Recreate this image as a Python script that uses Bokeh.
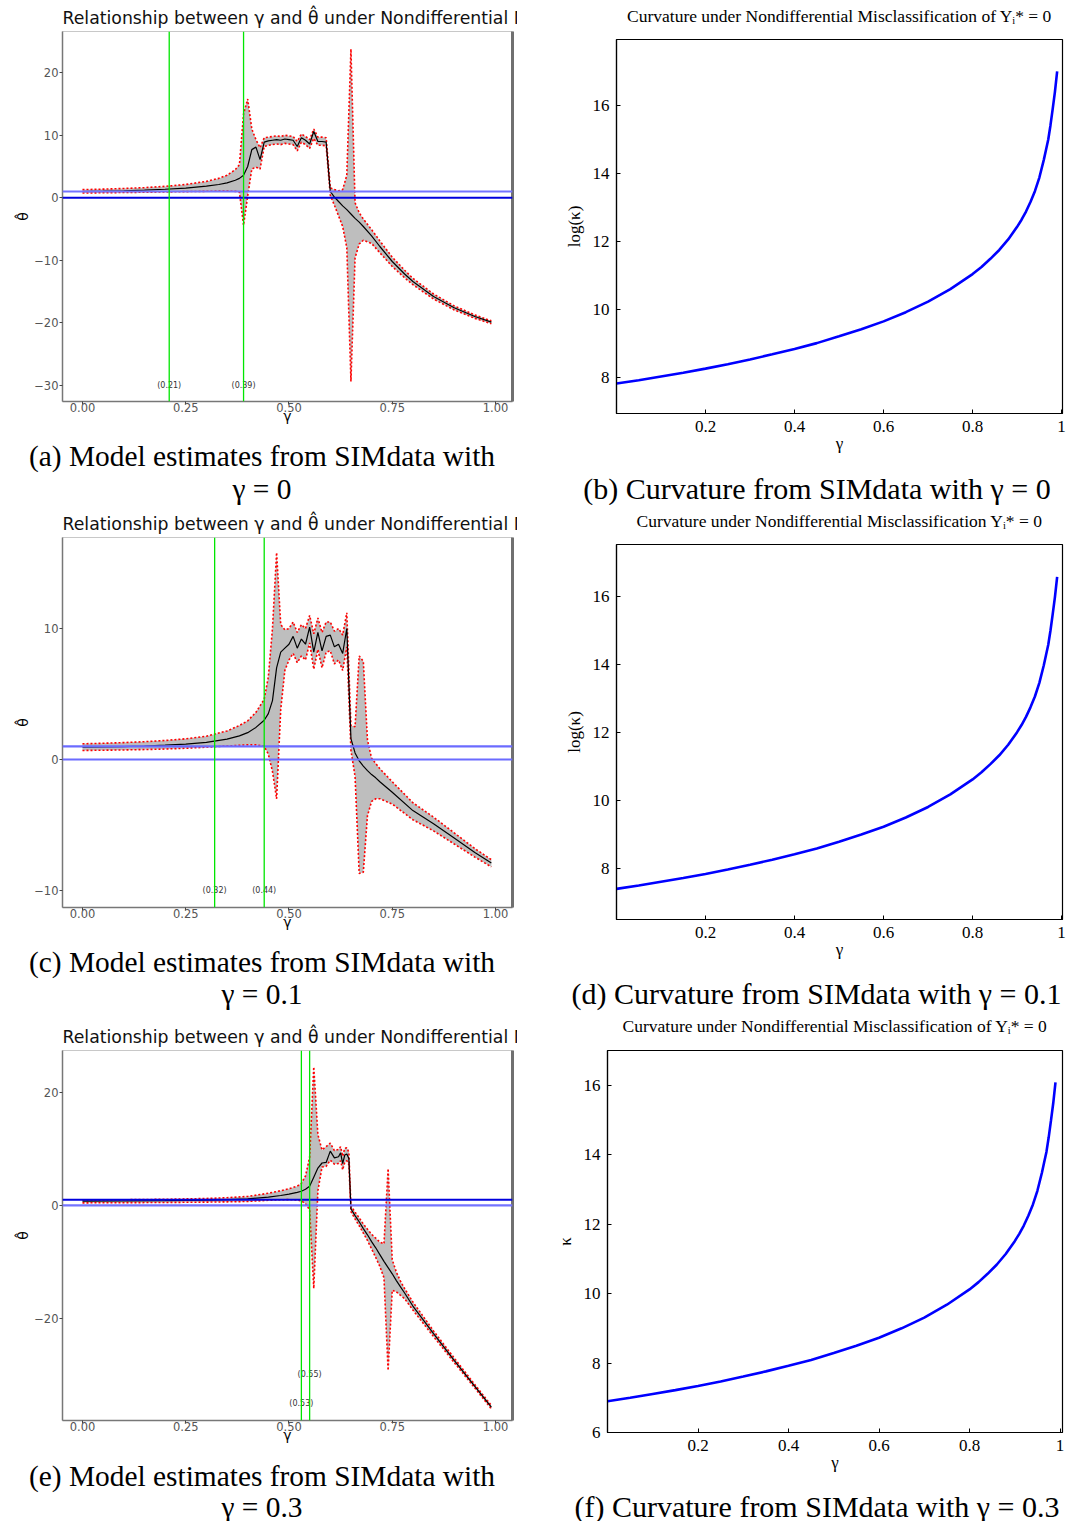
from bokeh.plotting import figure
from bokeh.models import Range1d, FixedTicker, NumeralTickFormatter, Span, LinearAxis
from bokeh.layouts import row, column
from bokeh.embed import file_html
from bokeh.resources import INLINE
from bokeh.core.properties import value

# ---------------- data: panel (a) gamma = 0 ----------------
gamma_a = [0.00, 0.05, 0.10, 0.15, 0.20, 0.25, 0.30, 0.33, 0.35, 0.37, 0.38, 0.39, 0.40, 0.41,
           0.42, 0.43, 0.44, 0.45, 0.46, 0.47, 0.48, 0.49, 0.50, 0.51, 0.52, 0.53, 0.54, 0.55,
           0.56, 0.57, 0.58, 0.59, 0.60, 0.61, 0.62, 0.63, 0.64, 0.65, 0.66, 0.67, 0.68, 0.70,
           0.72, 0.75, 0.78, 0.80, 0.85, 0.90, 0.95, 0.99]
est_a = [1.00, 1.05, 1.12, 1.22, 1.36, 1.55, 1.85, 2.12, 2.38, 2.80, 3.10, 3.60, 5.00, 7.70,
         8.10, 6.10, 8.90, 9.10, 9.20, 9.30, 9.20, 9.40, 9.30, 9.20, 8.20, 9.60, 9.20, 8.60,
         10.6, 9.00, 9.00, 8.90, 1.00, 0.10, -0.60, -1.30, -1.90, -2.60, -3.30, -3.90, -4.60, -6.10,
         -7.80, -10.2, -12.2, -13.4, -15.8, -17.6, -19.0, -19.9]
up_a = [1.30, 1.38, 1.48, 1.62, 1.82, 2.12, 2.62, 3.10, 3.60, 4.50, 5.30, 13.4, 15.8, 11.0,
        9.30, 8.00, 9.60, 9.70, 9.80, 9.90, 9.80, 10.0, 9.90, 9.80, 9.00, 10.2, 9.80, 9.30,
        11.0, 9.70, 9.70, 9.60, 1.60, 1.30, 1.10, 1.30, 3.60, 23.8, -0.80, -2.40, -3.40, -5.10,
        -6.90, -9.50, -11.6, -12.9, -15.4, -17.3, -18.75, -19.7]
lo_a = [0.75, 0.80, 0.84, 0.88, 0.93, 0.98, 1.03, 1.06, 1.07, 1.02, 0.90, -4.4, 0.30, 4.60,
        4.90, 4.60, 8.20, 8.40, 8.50, 8.60, 8.50, 8.70, 8.60, 8.50, 7.50, 8.90, 8.50, 7.90,
        9.50, 8.40, 8.40, 8.30, 0.40, -1.20, -2.90, -4.60, -8.00, -29.4, -9.60, -7.40, -6.80, -7.30,
        -8.80, -11.0, -12.8, -13.9, -16.2, -17.95, -19.3, -20.15]
vlines_a = [0.21, 0.39]
vlabels_a = ["(0.21)", "(0.39)"]
vlabel_y_a = [-30, -30]
yticks_a = [-30, -20, -10, 0, 10, 20]

# ---------------- data: panel (c) gamma = 0.1 ----------------
gamma_c = [0.00, 0.05, 0.10, 0.15, 0.20, 0.25, 0.30, 0.35, 0.38, 0.40, 0.42, 0.44, 0.45, 0.46,
           0.47, 0.48, 0.49, 0.50, 0.51, 0.52, 0.53, 0.54, 0.55, 0.56, 0.57, 0.58, 0.59, 0.60,
           0.61, 0.62, 0.63, 0.64, 0.65, 0.66, 0.67, 0.68, 0.69, 0.70, 0.71, 0.72, 0.75, 0.80,
           0.85, 0.90, 0.95, 0.99]
est_c = [0.94, 0.96, 0.99, 1.03, 1.09, 1.18, 1.31, 1.55, 1.80, 2.05, 2.45, 3.00, 3.50, 4.50,
         7.00, 8.20, 8.50, 8.80, 9.40, 8.50, 9.20, 8.80, 10.1, 8.20, 9.70, 8.30, 9.40, 9.50,
         8.60, 8.80, 8.10, 10.0, 1.60, 0.50, -0.10, -0.50, -0.85, -1.15, -1.40, -1.70, -2.50, -3.90,
         -4.90, -6.00, -7.10, -7.90]
up_c = [1.20, 1.24, 1.29, 1.36, 1.45, 1.58, 1.78, 2.18, 2.60, 2.95, 3.60, 4.60, 6.30, 10.0,
        15.8, 10.3, 9.90, 10.0, 10.5, 9.70, 10.3, 10.0, 11.0, 9.60, 10.8, 9.70, 10.5, 10.5,
        9.80, 10.0, 9.50, 11.2, 2.60, 2.50, 7.90, 7.50, 1.50, 0.10, -0.30, -0.70, -1.70, -3.30,
        -4.40, -5.60, -6.80, -7.65]
lo_c = [0.69, 0.71, 0.73, 0.76, 0.80, 0.86, 0.94, 1.03, 1.08, 1.12, 1.12, 1.00, 0.40, -0.90,
        -3.00, 3.80, 6.80, 7.60, 8.10, 7.40, 7.90, 7.60, 8.90, 6.90, 8.40, 7.00, 8.20, 8.30,
        7.30, 7.60, 6.80, 8.60, 0.70, -1.30, -8.70, -8.60, -4.30, -3.20, -3.00, -3.00, -3.40, -4.60,
        -5.45, -6.45, -7.45, -8.20]
vlines_c = [0.32, 0.44]
vlabels_c = ["(0.32)", "(0.44)"]
vlabel_y_c = [-10, -10]
yticks_c = [-10, 0, 10]

# ---------------- data: panel (e) gamma = 0.3 ----------------
gamma_e = [0.00, 0.10, 0.20, 0.30, 0.35, 0.40, 0.45, 0.48, 0.50, 0.52, 0.53, 0.54, 0.55, 0.56,
           0.57, 0.58, 0.59, 0.60, 0.61, 0.62, 0.625, 0.63, 0.635, 0.64, 0.645, 0.65, 0.66, 0.67,
           0.68, 0.69, 0.70, 0.71, 0.72, 0.73, 0.74, 0.75, 0.76, 0.77, 0.78, 0.80, 0.85, 0.90,
           0.95, 0.99]
est_e = [0.75, 0.78, 0.83, 0.93, 1.02, 1.15, 1.45, 1.75, 2.00, 2.30, 2.50, 2.85, 3.40, 5.00,
         6.60, 7.50, 7.60, 9.60, 8.40, 8.60, 9.30, 7.40, 8.90, 9.10, 8.30, -0.60, -1.80, -2.90,
         -4.10, -5.20, -6.40, -7.50, -8.70, -9.90, -11.0, -12.1, -13.3, -14.4, -15.5, -17.8, -22.7, -27.4,
         -32.0, -35.7]
up_e = [0.95, 1.00, 1.08, 1.22, 1.36, 1.58, 2.15, 2.60, 2.95, 3.40, 3.90, 5.20, 8.50, 24.5,
        12.5, 9.80, 10.4, 11.0, 9.70, 9.90, 10.4, 8.70, 10.1, 10.2, 9.40, -0.10, -1.20, -2.20,
        -3.30, -4.20, -5.10, -5.80, -6.50, -6.80, 6.50, -9.60, -11.8, -13.4, -14.7, -17.1, -22.2, -27.0,
        -31.7, -35.4]
lo_e = [0.45, 0.48, 0.52, 0.58, 0.63, 0.70, 0.90, 1.00, 1.02, 0.95, 0.80, 0.30, -0.80, -14.7,
        2.60, 6.80, 6.90, 8.00, 7.30, 7.40, 7.90, 6.30, 7.60, 7.90, 7.20, -1.10, -2.40, -3.60,
        -4.90, -6.20, -7.70, -9.20, -10.8, -12.8, -29.2, -15.0, -15.3, -15.9, -16.5, -18.5, -23.2, -27.8,
        -32.3, -36.0]
vlines_e = [0.53, 0.55]
vlabels_e = ["(0.53)", "(0.55)"]
vlabel_y_e = [-35, -30]
yticks_e = [-20, 0, 20]

# horizontal reference lines (theta = 0 and theta = 1)
hlines = [0, 1]
xticks_left = [0.0, 0.25, 0.5, 0.75, 1.0]

# ---------------- curvature panels ----------------
gamma_k = [0.00, 0.05, 0.10, 0.15, 0.20, 0.25, 0.30, 0.35, 0.40, 0.45, 0.50, 0.55, 0.60, 0.65,
           0.70, 0.75, 0.80, 0.82, 0.84, 0.86, 0.88, 0.90, 0.91, 0.92, 0.93, 0.94, 0.95, 0.96,
           0.965, 0.97, 0.975, 0.98, 0.985, 0.99]
logk_b = [7.82, 7.92, 8.03, 8.14, 8.26, 8.39, 8.53, 8.68, 8.84, 9.01, 9.21, 9.42, 9.65, 9.92,
          10.23, 10.60, 11.04, 11.25, 11.49, 11.75, 12.06, 12.43, 12.64, 12.88, 13.16, 13.48, 13.88, 14.40,
          14.70, 15.00, 15.42, 15.90, 16.40, 17.00]
logk_d = [7.40, 7.50, 7.61, 7.72, 7.84, 7.97, 8.11, 8.26, 8.42, 8.59, 8.79, 9.00, 9.23, 9.50,
          9.81, 10.18, 10.62, 10.83, 11.07, 11.33, 11.64, 12.01, 12.22, 12.46, 12.74, 13.06, 13.46, 13.98,
          14.28, 14.58, 15.00, 15.48, 15.98, 16.58]
k_f = [6.90, 7.00, 7.11, 7.22, 7.34, 7.47, 7.61, 7.76, 7.92, 8.09, 8.29, 8.50, 8.73, 9.00,
       9.31, 9.68, 10.12, 10.33, 10.57, 10.83, 11.14, 11.51, 11.72, 11.96, 12.24, 12.56, 12.96, 13.48,
       13.78, 14.08, 14.50, 14.98, 15.48, 16.08]
xticks_right = [0.2, 0.4, 0.6, 0.8, 1.0]
yticks_bd = [8, 10, 12, 14, 16]
yticks_f = [6, 8, 10, 12, 14, 16]

SANS = "DejaVu Sans"
SERIF = "Liberation Serif"
MINUS = "\u2212"
TITLE_OF = "Curvature under Nondifferential Misclassification of Y\u1d62* = 0"
TITLE_NO_OF = "Curvature under Nondifferential Misclassification Y\u1d62* = 0"


def left_panel(gam, est, up, lo, ylim, yticks, vl, vlab, vlab_y, hcolors, hwidths,
               height, top, bottom):
    p = figure(width=517, height=height, output_backend="svg", toolbar_location=None,
               x_range=Range1d(-0.0484, 1.0412), y_range=Range1d(*ylim),
               min_border_left=62, min_border_right=5, min_border_top=top,
               min_border_bottom=bottom)
    p.title.text = "Relationship between \u03b3 and \u03b8\u0302 under Nondifferential Misclassification"
    p.title.text_font = SANS
    p.title.text_font_size = "17.3px"
    p.title.text_font_style = "normal"
    p.title.text_color = "#111111"
    p.title.standoff = 8
    p.grid.visible = False
    p.outline_line_color = "#c8c8c8"

    p.varea(x=gam, y1=lo, y2=up, fill_color="#bebebe")
    p.line(gam, up, line_color="red", line_dash="2 2", line_width=1.6)
    p.line(gam, lo, line_color="red", line_dash="2 2", line_width=1.6)
    p.line(gam, est, line_color="black", line_width=1.2)
    for loc, col, w in zip(hlines, hcolors, hwidths):
        p.add_layout(Span(location=loc, dimension="width", line_color=col, line_width=w))
    for v in vl:
        p.add_layout(Span(location=v, dimension="height", line_color="#00e600", line_width=1.3))
    p.text(x=vl, y=vlab_y, text=vlab, text_font=value(SANS), text_font_size="8px",
           text_align="center", text_baseline="middle", text_color="#333333")

    for ax in (p.xaxis[0], p.yaxis[0]):
        ax.axis_line_color = "#777777"
        ax.axis_line_width = 1.5
        ax.major_tick_line_color = "#444444"
        ax.major_tick_out = 3
        ax.major_tick_in = 0
        ax.minor_tick_line_color = None
        ax.major_label_text_font = SANS
        ax.major_label_text_font_size = "11.5px"
        ax.major_label_text_color = "#555555"
        ax.axis_label_text_font = SANS
        ax.axis_label_text_font_size = "14px"
        ax.axis_label_text_font_style = "normal"
        ax.axis_label_text_color = "black"
    p.xaxis.ticker = FixedTicker(ticks=xticks_left)
    p.xaxis.formatter = NumeralTickFormatter(format="0.00")
    p.xaxis.major_label_standoff = -2
    p.xaxis.axis_label = "\u03b3"
    p.xaxis.axis_label_standoff = -7
    p.yaxis.ticker = FixedTicker(ticks=yticks)
    p.yaxis.major_label_overrides = {t: (MINUS + str(-t) if t < 0 else str(t)) for t in yticks}
    p.yaxis.major_label_standoff = 1
    p.yaxis.axis_label = "\u03b8\u0302"
    p.yaxis.axis_label_standoff = 0

    right = LinearAxis(axis_line_color="#707070", axis_line_width=3, major_tick_line_color=None,
                       minor_tick_line_color=None, major_label_text_font_size="1px",
                       major_label_text_color=None, major_label_standoff=0, ticker=FixedTicker(ticks=[]))
    p.add_layout(right, "right")
    return p


def right_panel(gam, k, ylim, yticks, xmax, ylab, height, left, top, bottom):
    p = figure(width=554, height=height, output_backend="svg", toolbar_location=None,
               x_range=Range1d(0, xmax), y_range=Range1d(*ylim),
               min_border_left=left, min_border_right=9, min_border_top=top,
               min_border_bottom=bottom)
    p.title.visible = False
    p.grid.visible = False
    p.outline_line_color = "black"
    p.outline_line_width = 1.2

    p.line(gam, k, line_color="#0000ff", line_width=2.6)

    for ax in (p.xaxis[0], p.yaxis[0]):
        ax.axis_line_color = "black"
        ax.axis_line_width = 1.2
        ax.major_tick_line_color = "black"
        ax.major_tick_in = 4
        ax.major_tick_out = 0
        ax.minor_tick_line_color = None
        ax.major_label_text_font = SERIF
        ax.major_label_text_font_size = "17px"
        ax.major_label_text_color = "black"
        ax.axis_label_text_font = SERIF
        ax.axis_label_text_font_size = "17px"
        ax.axis_label_text_font_style = "normal"
        ax.axis_label_text_color = "black"
    p.xaxis.ticker = FixedTicker(ticks=xticks_right)
    p.xaxis.major_label_overrides = {0.2: "0.2", 0.4: "0.4", 0.6: "0.6", 0.8: "0.8", 1.0: "1"}
    p.xaxis.major_label_standoff = 7
    p.xaxis.axis_label = "\u03b3"
    p.xaxis.axis_label_standoff = -1
    p.yaxis.ticker = FixedTicker(ticks=yticks)
    p.yaxis.major_label_standoff = 7
    p.yaxis.axis_label = ylab
    p.yaxis.axis_label_standoff = 6
    return row(p)


def strip(width, height, x0, fig_top, lines, cx, size):
    """A text strip (caption or title); x in page pixels, y in pixels from the strip bottom."""
    p = figure(width=width, height=height, output_backend="svg", toolbar_location=None,
               x_range=Range1d(x0, x0 + width), y_range=Range1d(0, height),
               x_axis_type=None, y_axis_type=None,
               min_border_left=0, min_border_right=0, min_border_top=0, min_border_bottom=0)
    p.title.visible = False
    p.outline_line_color = None
    p.grid.visible = False
    texts = [t for t, _ in lines]
    ys = [height - (py - fig_top) for _, py in lines]
    p.text(x=[cx] * len(lines), y=ys, text=texts, text_font=value(SERIF), text_font_size=size,
           text_align="center", text_baseline="middle", text_color="black")
    return row(p)


pa = left_panel(gamma_a, est_a, up_a, lo_a, (-32.6, 26.6), yticks_a, vlines_a, vlabels_a, vlabel_y_a,
                ["#0000dd", "#7373ff"], [1.8, 2.2], 434, 31, 33)
cap_a = strip(517, 71, 0, 434,
              [("(a) Model estimates from SIMdata with", 455), ("\u03b3 = 0", 488)], 261.5, "29.4px")
pc = left_panel(gamma_c, est_c, up_c, lo_c, (-11.3, 16.95), yticks_c, vlines_c, vlabels_c, vlabel_y_c,
                ["#6b6bff", "#6b6bff"], [2.2, 2.2], 434, 32, 32)
cap_c = strip(517, 73, 0, 939,
              [("(c) Model estimates from SIMdata with", 961), ("\u03b3 = 0.1", 993)], 261.5, "29.4px")
pe = left_panel(gamma_e, est_e, up_e, lo_e, (-38.05, 27.4), yticks_e, vlines_e, vlabels_e, vlabel_y_e,
                ["#7373ff", "#0000dd"], [2.2, 1.8], 441, 38, 33)
cap_e = strip(517, 68, 0, 1453,
              [("(e) Model estimates from SIMdata with", 1475), ("\u03b3 = 0.3", 1506)], 261.5, "29.4px")

title_b = strip(554, 28, 517, 0, [(TITLE_OF, 15)], 839, "17.5px")
pb = right_panel(gamma_k, logk_b, (6.94, 17.94), yticks_bd, 1.002, "log(\u03ba)", 432, 99, 11, 47)
cap_b = strip(554, 45, 517, 460, [("(b) Curvature from SIMdata with \u03b3 = 0", 488)], 816.5, "30px")

title_d = strip(554, 26, 517, 505, [(TITLE_NO_OF, 520)], 839, "17.5px")
pd_ = right_panel(gamma_k, logk_d, (6.5, 17.53), yticks_bd, 1.002, "log(\u03ba)", 435, 99, 13, 47)
cap_d = strip(554, 46, 517, 966, [("(d) Curvature from SIMdata with \u03b3 = 0.1", 993)], 816, "30px")

title_f = strip(554, 26, 517, 1012, [(TITLE_OF, 1025)], 834.5, "17.5px")
pf = right_panel(gamma_k, k_f, (6.0, 17.0), yticks_f, 1.0055, "\u03ba", 441, 90, 12, 47)
cap_f = strip(554, 42, 517, 1479, [("(f) Curvature from SIMdata with \u03b3 = 0.3", 1506)], 816.5, "30px")

col_left = column(pa, cap_a, pc, cap_c, pe, cap_e)
col_right = column(title_b, pb, cap_b, title_d, pd_, cap_d, title_f, pf, cap_f)
layout = row(col_left, col_right)
open("out.html", "w").write(file_html(layout, INLINE))
